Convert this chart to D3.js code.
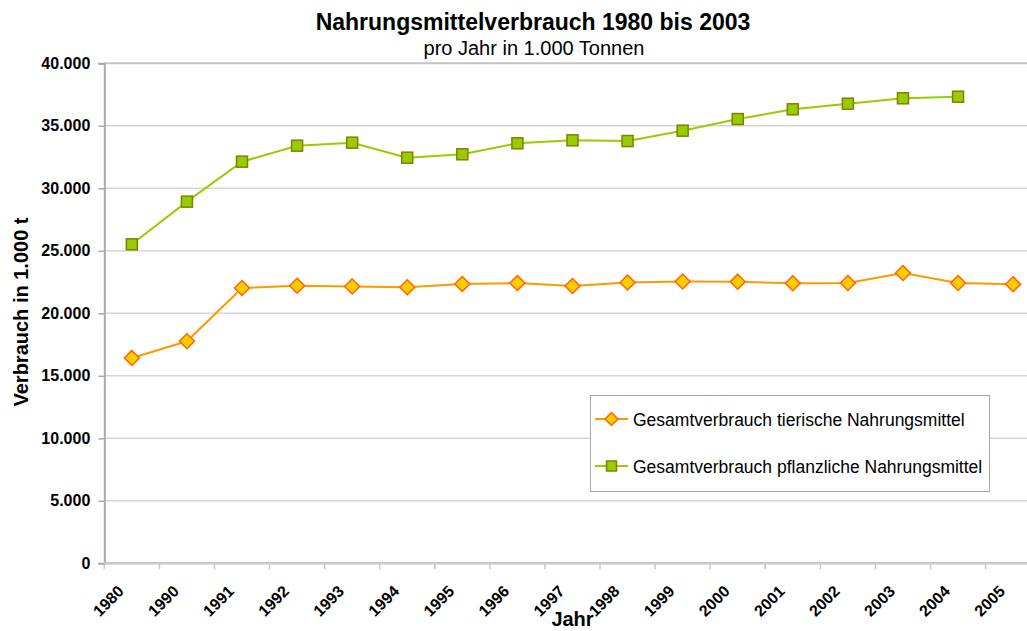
<!DOCTYPE html>
<html><head><meta charset="utf-8">
<script src="https://cdn.jsdelivr.net/npm/d3@7"></script>
<style>
html,body{margin:0;padding:0;background:#fff;overflow:hidden;}
text{font-family:"Liberation Sans",Arial,sans-serif;}
</style></head>
<body>
<svg id="c" width="1027" height="631"></svg>
<script>
const categories = ["1980","1990","1991","1992","1993","1994","1995","1996","1997","1998","1999","2000","2001","2002","2003","2004","2005"];
const tierisch = [16430,17760,22020,22200,22150,22080,22340,22420,22180,22460,22540,22530,22400,22420,23220,22420,22320];
const pflanzlich = [25520,28930,32130,33410,33650,32450,32720,33600,33840,33780,34610,35540,36320,36770,37200,37330,null];
const yTicks = [0,5000,10000,15000,20000,25000,30000,35000,40000];
const seriesNames = ["Gesamtverbrauch tierische Nahrungsmittel","Gesamtverbrauch pflanzliche Nahrungsmittel"];

const svg = d3.select("#c");
const pLeft = 104.3, pTop = 63.3, pBottom = 563.3, bw = 55.08;
const pRight = pLeft + bw * categories.length;
const x = d3.scaleBand().domain(categories).range([pLeft, pRight]).padding(0);
const y = d3.scaleLinear().domain([0, 40000]).range([pBottom, pTop]);
const loc = d3.formatLocale({decimal:",", thousands:".", grouping:[3], currency:["","€"]});
const fmt = loc.format(",");

// gridlines
svg.append("g").selectAll("line").data(yTicks.filter(d => d > 0)).join("line")
  .attr("x1", pLeft).attr("x2", pRight)
  .attr("y1", d => y(d)).attr("y2", d => y(d))
  .attr("stroke", d => d === 40000 ? "#c4c4c4" : "#d6d6d6")
  .attr("stroke-width", d => d === 40000 ? 2 : 1.5);

// y axis
const ya = svg.append("g").attr("transform", `translate(${pLeft},0)`)
  .call(d3.axisLeft(y).tickValues(yTicks).tickFormat(fmt).tickSize(6).tickPadding(8));
ya.select(".domain").attr("stroke", "#aaaaaa").attr("stroke-width", 2);
ya.selectAll(".tick line").attr("stroke", "#aaaaaa").attr("stroke-width", 1.5);
ya.selectAll(".tick text").attr("font-size", 16).attr("font-weight", "bold")
  .attr("font-family", "Liberation Sans, Arial, sans-serif").attr("fill", "#000");

// x axis
const xa = svg.append("g").attr("transform", `translate(0,${pBottom})`);
xa.append("line").attr("x1", pLeft).attr("x2", pRight).attr("y1", 0).attr("y2", 0)
  .attr("stroke", "#c8c8c8").attr("stroke-width", 2.5);
xa.selectAll("line.tk").data(categories.concat(["_end"])).join("line").attr("class","tk")
  .attr("x1", (d,i) => pLeft + i * x.bandwidth()).attr("x2", (d,i) => pLeft + i * x.bandwidth())
  .attr("y1", 0).attr("y2", 6).attr("stroke", "#c8c8c8").attr("stroke-width", 1.5);
xa.selectAll("text").data(categories).join("text")
  .attr("transform", d => `translate(${x(d) + x.bandwidth()/2 - 7},${29}) rotate(-45)`)
  .attr("text-anchor", "end").attr("font-size", 16).attr("font-weight", "bold").attr("fill", "#000")
  .text(d => d);

// axis titles
svg.append("text").attr("x", 572.5).attr("y", 626).attr("text-anchor", "middle")
  .attr("font-size", 20).attr("font-weight", "bold").text("Jahr");
svg.append("text").attr("transform", "translate(28,312) rotate(-90)").attr("text-anchor", "middle")
  .attr("font-size", 20).attr("font-weight", "bold").text("Verbrauch in 1.000 t");

// title
svg.append("text").attr("x", 533).attr("y", 30).attr("text-anchor", "middle")
  .attr("font-size", 23).attr("font-weight", "bold").text("Nahrungsmittelverbrauch 1980 bis 2003");
svg.append("text").attr("x", 534).attr("y", 55).attr("text-anchor", "middle")
  .attr("font-size", 20).text("pro Jahr in 1.000 Tonnen");

const cx = d => x(d) + x.bandwidth()/2;
const line = d3.line().defined(d => d.v != null).x(d => cx(d.c)).y(d => y(d.v));

const tData = categories.map((c,i) => ({c, v: tierisch[i]}));
const pData = categories.map((c,i) => ({c, v: pflanzlich[i]}));

// green series
svg.append("path").datum(pData).attr("d", line).attr("fill", "none")
  .attr("stroke", "#99cc00").attr("stroke-width", 2);
const sq = 11;
svg.append("g").selectAll("rect").data(pData.filter(d => d.v != null)).join("rect")
  .attr("x", d => cx(d.c) - sq/2).attr("y", d => y(d.v) - sq/2)
  .attr("width", sq).attr("height", sq)
  .attr("fill", "#99cc00").attr("stroke", "#808000").attr("stroke-width", 1.5);

// orange series
svg.append("path").datum(tData).attr("d", line).attr("fill", "none")
  .attr("stroke", "#ff9900").attr("stroke-width", 2);
const dm = 7.5;
const diamond = (px,py,r) => `M${px},${py-r}L${px+r},${py}L${px},${py+r}L${px-r},${py}Z`;
svg.append("g").selectAll("path").data(tData).join("path")
  .attr("d", d => diamond(cx(d.c), y(d.v), dm))
  .attr("fill", "#ffcc00").attr("stroke", "#ff6600").attr("stroke-width", 1.5);

// legend
const lg = svg.append("g");
lg.append("rect").attr("x", 590.5).attr("y", 395.5).attr("width", 399).attr("height", 96)
  .attr("fill", "#fff").attr("stroke", "#a6a6a6").attr("stroke-width", 1);
const ly = [419, 466];
lg.append("line").attr("x1", 595).attr("x2", 628).attr("y1", ly[0]).attr("y2", ly[0])
  .attr("stroke", "#ff9900").attr("stroke-width", 2);
lg.append("path").attr("d", diamond(611.5, ly[0], 6.5)).attr("fill", "#ffcc00").attr("stroke", "#ff6600").attr("stroke-width", 1.5);
lg.append("line").attr("x1", 595).attr("x2", 628).attr("y1", ly[1]).attr("y2", ly[1])
  .attr("stroke", "#99cc00").attr("stroke-width", 2);
lg.append("rect").attr("x", 611.5 - 5).attr("y", ly[1] - 5).attr("width", 10).attr("height", 10)
  .attr("fill", "#99cc00").attr("stroke", "#808000").attr("stroke-width", 1.5);
lg.selectAll("text.lt").data(seriesNames).join("text").attr("class", "lt")
  .attr("x", 633).attr("y", (d,i) => ly[i] + 6.5).attr("font-size", 17.5).attr("fill", "#000")
  .text(d => d);
</script>
</body></html>
